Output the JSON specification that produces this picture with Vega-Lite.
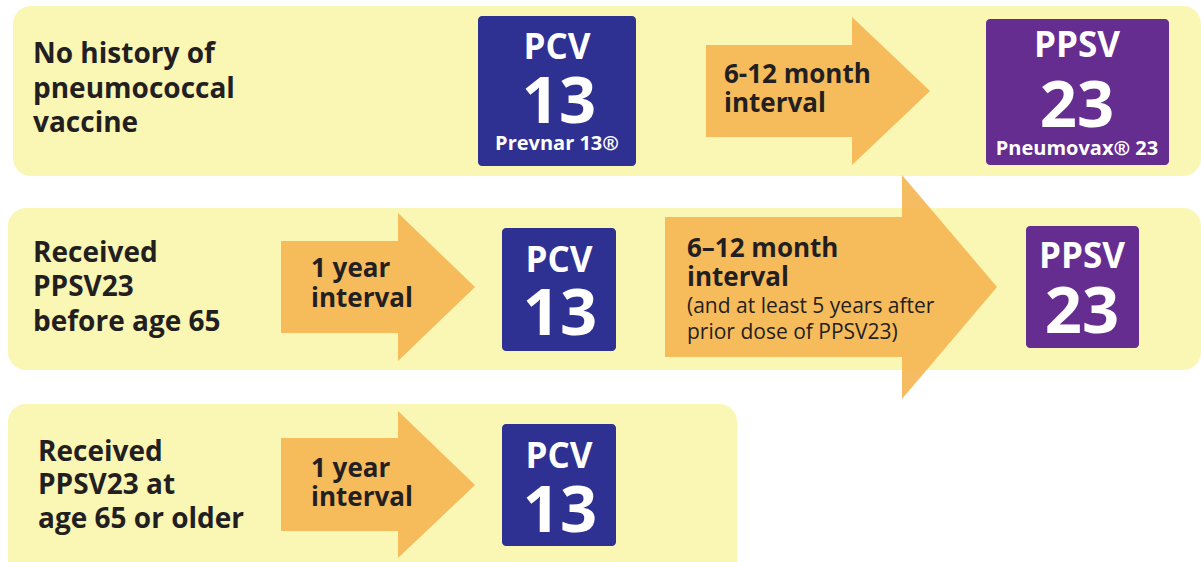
{
  "$schema": "https://vega.github.io/schema/vega-lite/v6.json",
  "width": 1201,
  "height": 562,
  "padding": 0,
  "autosize": {"type": "fit", "contains": "padding"},
  "background": "#ffffff",
  "config": {"view": {"stroke": null}},
  "datasets": {
    "bands": [
      {"id": "no history", "x": 13, "x2": 1201, "y": 6, "y2": 176},
      {"id": "before 65", "x": 8, "x2": 1201, "y": 208, "y2": 370},
      {"id": "65 or older", "x": 8, "x2": 737, "y": 404, "y2": 600}
    ],
    "boxes": [
      {"vaccine": "PCV13", "x": 478, "x2": 636, "y": 16, "y2": 166},
      {"vaccine": "PPSV23", "x": 986, "x2": 1169, "y": 19, "y2": 165},
      {"vaccine": "PCV13", "x": 502, "x2": 616, "y": 228, "y2": 351},
      {"vaccine": "PPSV23", "x": 1026, "x2": 1139, "y": 226, "y2": 348},
      {"vaccine": "PCV13", "x": 502, "x2": 616, "y": 424, "y2": 546}
    ],
    "arrows": [
      {"id": "a1", "k": 1, "x": 706, "y": 45},
      {"id": "a1", "k": 2, "x": 852, "y": 45},
      {"id": "a1", "k": 3, "x": 852, "y": 17},
      {"id": "a1", "k": 4, "x": 930, "y": 91},
      {"id": "a1", "k": 5, "x": 852, "y": 165},
      {"id": "a1", "k": 6, "x": 852, "y": 137},
      {"id": "a1", "k": 7, "x": 706, "y": 137},
      {"id": "a1", "k": 8, "x": 706, "y": 45},
      {"id": "a2", "k": 1, "x": 281, "y": 241},
      {"id": "a2", "k": 2, "x": 398, "y": 241},
      {"id": "a2", "k": 3, "x": 398, "y": 213},
      {"id": "a2", "k": 4, "x": 475, "y": 287},
      {"id": "a2", "k": 5, "x": 398, "y": 361},
      {"id": "a2", "k": 6, "x": 398, "y": 333},
      {"id": "a2", "k": 7, "x": 281, "y": 333},
      {"id": "a2", "k": 8, "x": 281, "y": 241},
      {"id": "a3", "k": 1, "x": 665, "y": 217},
      {"id": "a3", "k": 2, "x": 902, "y": 217},
      {"id": "a3", "k": 3, "x": 902, "y": 175},
      {"id": "a3", "k": 4, "x": 997, "y": 287},
      {"id": "a3", "k": 5, "x": 902, "y": 399},
      {"id": "a3", "k": 6, "x": 902, "y": 357},
      {"id": "a3", "k": 7, "x": 665, "y": 357},
      {"id": "a3", "k": 8, "x": 665, "y": 217},
      {"id": "a4", "k": 1, "x": 281, "y": 438},
      {"id": "a4", "k": 2, "x": 398, "y": 438},
      {"id": "a4", "k": 3, "x": 398, "y": 411},
      {"id": "a4", "k": 4, "x": 475, "y": 485},
      {"id": "a4", "k": 5, "x": 398, "y": 558},
      {"id": "a4", "k": 6, "x": 398, "y": 531},
      {"id": "a4", "k": 7, "x": 281, "y": 531},
      {"id": "a4", "k": 8, "x": 281, "y": 438}
    ],
    "leftText": [
      {"text": "No history of", "x": 33, "y": 63},
      {"text": "pneumococcal", "x": 33, "y": 98},
      {"text": "vaccine", "x": 33, "y": 132},
      {"text": "Received", "x": 33, "y": 262},
      {"text": "PPSV23", "x": 33, "y": 296},
      {"text": "before age 65", "x": 33, "y": 331},
      {"text": "Received", "x": 38, "y": 461},
      {"text": "PPSV23 at", "x": 38, "y": 494},
      {"text": "age 65 or older", "x": 38, "y": 528}
    ],
    "arrowText": [
      {"text": "6-12 month", "x": 724, "y": 83},
      {"text": "interval", "x": 724, "y": 112},
      {"text": "1 year", "x": 311, "y": 277},
      {"text": "interval", "x": 311, "y": 307},
      {"text": "6–12 month", "x": 687, "y": 257},
      {"text": "interval", "x": 687, "y": 286},
      {"text": "1 year", "x": 311, "y": 477},
      {"text": "interval", "x": 311, "y": 506}
    ],
    "arrowNote": [
      {"text": "(and at least 5 years after", "x": 687, "y": 313},
      {"text": "prior dose of PPSV23)", "x": 687, "y": 339}
    ],
    "boxName": [
      {"text": "PCV", "x": 557, "y": 59},
      {"text": "PPSV", "x": 1077, "y": 57},
      {"text": "PCV", "x": 559, "y": 272},
      {"text": "PPSV", "x": 1082, "y": 268},
      {"text": "PCV", "x": 559, "y": 468}
    ],
    "boxNum": [
      {"text": "13", "x": 559, "y": 123},
      {"text": "23", "x": 1077, "y": 127},
      {"text": "13", "x": 560, "y": 335},
      {"text": "23", "x": 1082, "y": 333},
      {"text": "13", "x": 560, "y": 532}
    ],
    "boxBrand": [
      {"text": "Prevnar 13®", "x": 557, "y": 150},
      {"text": "Pneumovax® 23", "x": 1077, "y": 155}
    ]
  },
  "layer": [
    {
      "data": {"name": "bands"},
      "mark": {"type": "rect", "color": "#FAF6B4", "cornerRadius": 18, "clip": true},
      "encoding": {
        "x": {"field": "x", "type": "quantitative", "scale": {"domain": [0, 1201], "nice": false, "zero": false}, "axis": null},
        "x2": {"field": "x2"},
        "y": {"field": "y", "type": "quantitative", "scale": {"domain": [0, 562], "reverse": true, "nice": false, "zero": false}, "axis": null},
        "y2": {"field": "y2"}
      }
    },
    {
      "data": {"name": "arrows"},
      "mark": {"type": "line", "color": "#F5B551", "fill": "#F5B551", "strokeWidth": 0, "opacity": 0.9},
      "encoding": {
        "x": {"field": "x", "type": "quantitative", "scale": {"domain": [0, 1201], "nice": false, "zero": false}, "axis": null},
        "y": {"field": "y", "type": "quantitative", "scale": {"domain": [0, 562], "reverse": true, "nice": false, "zero": false}, "axis": null},
        "detail": {"field": "id", "type": "nominal"},
        "order": {"field": "k", "type": "quantitative"}
      }
    },
    {
      "data": {"name": "boxes"},
      "mark": {"type": "rect", "cornerRadius": 4},
      "encoding": {
        "x": {"field": "x", "type": "quantitative", "scale": {"domain": [0, 1201], "nice": false, "zero": false}, "axis": null},
        "x2": {"field": "x2"},
        "y": {"field": "y", "type": "quantitative", "scale": {"domain": [0, 562], "reverse": true, "nice": false, "zero": false}, "axis": null},
        "y2": {"field": "y2"},
        "color": {"field": "vaccine", "type": "nominal", "scale": {"domain": ["PCV13", "PPSV23"], "range": ["#2E3192", "#662D91"]}, "legend": null}
      }
    },
    {
      "data": {"name": "leftText"},
      "mark": {"type": "text", "align": "left", "baseline": "alphabetic", "font": "Open Sans", "fontWeight": "bold", "fontSize": 28, "color": "#231F20"},
      "encoding": {
        "x": {"field": "x", "type": "quantitative", "scale": {"domain": [0, 1201], "nice": false, "zero": false}, "axis": null},
        "y": {"field": "y", "type": "quantitative", "scale": {"domain": [0, 562], "reverse": true, "nice": false, "zero": false}, "axis": null},
        "text": {"field": "text"}
      }
    },
    {
      "data": {"name": "arrowText"},
      "mark": {"type": "text", "align": "left", "baseline": "alphabetic", "font": "Open Sans", "fontWeight": "bold", "fontSize": 26, "color": "#231F20"},
      "encoding": {
        "x": {"field": "x", "type": "quantitative", "scale": {"domain": [0, 1201], "nice": false, "zero": false}, "axis": null},
        "y": {"field": "y", "type": "quantitative", "scale": {"domain": [0, 562], "reverse": true, "nice": false, "zero": false}, "axis": null},
        "text": {"field": "text"}
      }
    },
    {
      "data": {"name": "arrowNote"},
      "mark": {"type": "text", "align": "left", "baseline": "alphabetic", "font": "Open Sans", "fontWeight": "normal", "fontSize": 21, "color": "#231F20"},
      "encoding": {
        "x": {"field": "x", "type": "quantitative", "scale": {"domain": [0, 1201], "nice": false, "zero": false}, "axis": null},
        "y": {"field": "y", "type": "quantitative", "scale": {"domain": [0, 562], "reverse": true, "nice": false, "zero": false}, "axis": null},
        "text": {"field": "text"}
      }
    },
    {
      "data": {"name": "boxName"},
      "mark": {"type": "text", "align": "center", "baseline": "alphabetic", "font": "Open Sans", "fontWeight": "bold", "fontSize": 35, "color": "#ffffff"},
      "encoding": {
        "x": {"field": "x", "type": "quantitative", "scale": {"domain": [0, 1201], "nice": false, "zero": false}, "axis": null},
        "y": {"field": "y", "type": "quantitative", "scale": {"domain": [0, 562], "reverse": true, "nice": false, "zero": false}, "axis": null},
        "text": {"field": "text"}
      }
    },
    {
      "data": {"name": "boxNum"},
      "mark": {"type": "text", "align": "center", "baseline": "alphabetic", "font": "Open Sans", "fontWeight": "bold", "fontSize": 65, "color": "#ffffff"},
      "encoding": {
        "x": {"field": "x", "type": "quantitative", "scale": {"domain": [0, 1201], "nice": false, "zero": false}, "axis": null},
        "y": {"field": "y", "type": "quantitative", "scale": {"domain": [0, 562], "reverse": true, "nice": false, "zero": false}, "axis": null},
        "text": {"field": "text"}
      }
    },
    {
      "data": {"name": "boxBrand"},
      "mark": {"type": "text", "align": "center", "baseline": "alphabetic", "font": "Open Sans", "fontWeight": "bold", "fontSize": 20, "color": "#ffffff"},
      "encoding": {
        "x": {"field": "x", "type": "quantitative", "scale": {"domain": [0, 1201], "nice": false, "zero": false}, "axis": null},
        "y": {"field": "y", "type": "quantitative", "scale": {"domain": [0, 562], "reverse": true, "nice": false, "zero": false}, "axis": null},
        "text": {"field": "text"}
      }
    }
  ]
}
